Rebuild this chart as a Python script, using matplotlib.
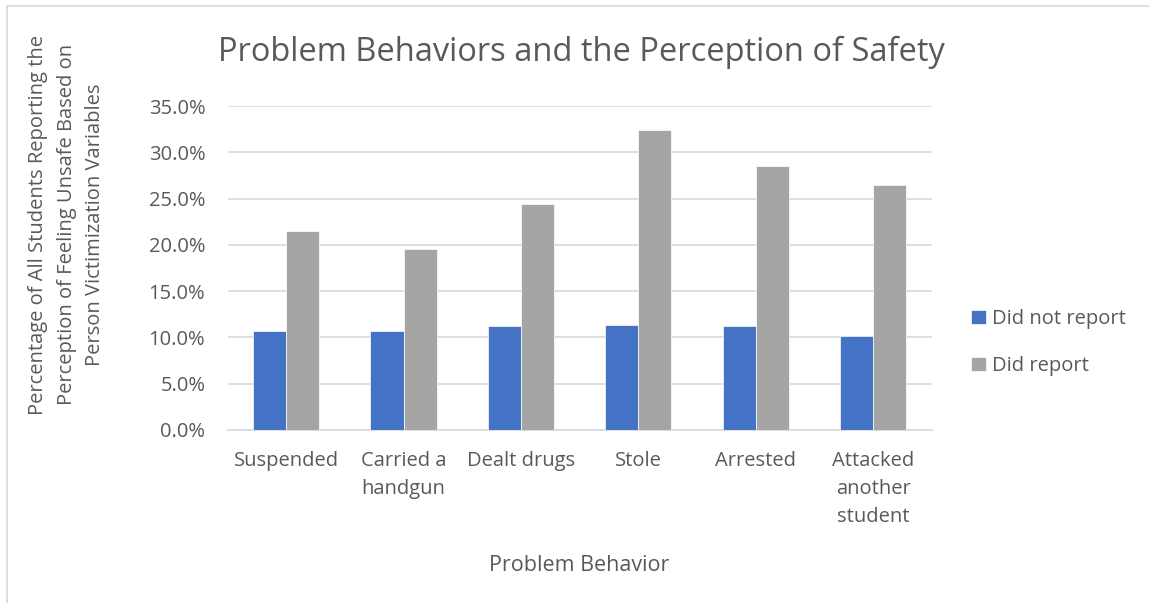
import numpy as np
import matplotlib.pyplot as plt
from matplotlib.patches import Rectangle
from matplotlib.ticker import PercentFormatter

plt.rcParams['font.family'] = ['Open Sans', 'DejaVu Sans']

categories = ['Suspended', 'Carried a\nhandgun', 'Dealt drugs', 'Stole', 'Arrested',
              'Attacked\nanother\nstudent']
did_not_report = [10.65, 10.65, 11.2, 11.35, 11.2, 10.2]
did_report = [21.5, 19.6, 24.4, 32.4, 28.5, 26.5]

text_col = '#595959'
fig = plt.figure(figsize=(11.49, 6.03), dpi=100)
ax = fig.add_axes([0.198, 0.287, 0.613, 0.537])

x = np.arange(len(categories))
w = 0.282
ax.bar(x - w/2, did_not_report, w, color='#4472c4', label='Did not report', zorder=3,
       edgecolor='white', linewidth=0.5)
ax.bar(x + w/2, did_report, w, color='#a5a5a5', label='Did report', zorder=3,
       edgecolor='white', linewidth=0.5)

ax.set_xlim(-0.5, len(categories) - 0.5)
ax.set_ylim(0, 35)
ax.set_yticks(np.arange(0, 36, 5))
ax.yaxis.set_major_formatter(PercentFormatter(decimals=1))
ax.grid(axis='y', color='#d9d9d9', linewidth=1.2, zorder=0)
for s in ['top', 'right', 'left']:
    ax.spines[s].set_visible(False)
ax.spines['bottom'].set_color('#d9d9d9')
ax.spines['bottom'].set_linewidth(1.2)
ax.tick_params(length=0, labelsize=14.5, colors=text_col)
ax.set_xticks(x)
ax.set_xticklabels(categories, linespacing=1.55)
ax.tick_params(axis='x', pad=15)
ax.tick_params(axis='y', pad=16)

ax.set_xlabel('Problem Behavior', fontsize=15.5, color=text_col, labelpad=20)
fig.text(0.058, 0.627, 'Percentage of All Students Reporting the\nPerception of Feeling Unsafe Based on\nPerson Victimization Variables',
         rotation=90, ha='center', va='center', fontsize=14.5, color=text_col,
         multialignment='center', linespacing=1.55)
fig.text(0.506, 0.913, 'Problem Behaviors and the Perception of Safety', ha='center',
         va='center', fontsize=23.5, color=text_col)

ax.legend(loc='center left', bbox_to_anchor=(1.03, 0.27), frameon=False, fontsize=14.5,
          handlelength=0.75, handleheight=0.75, handletextpad=0.3, labelspacing=1.35,
          labelcolor=text_col)

fig.patches.append(Rectangle((0.006, -0.05), 1.1, 1.04, transform=fig.transFigure,
                             fill=False, edgecolor='#d9d9d9', linewidth=1.2))

fig.savefig('out.png', dpi=100)
